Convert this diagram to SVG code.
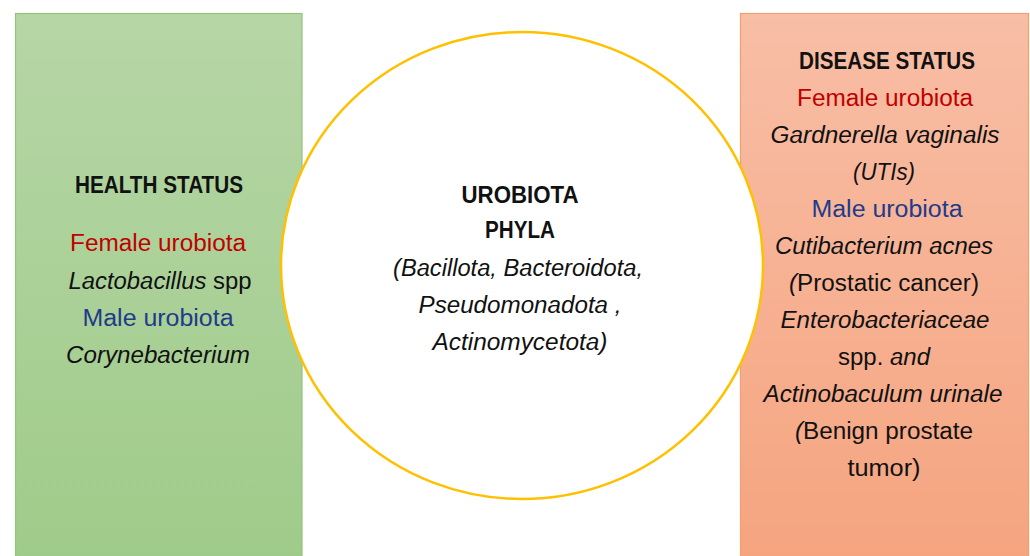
<svg xmlns="http://www.w3.org/2000/svg" width="1030" height="556" viewBox="0 0 1030 556">
<defs>
<linearGradient id="gGreen" x1="0" y1="0" x2="0" y2="1">
<stop offset="0" stop-color="#B6D6A6"/>
<stop offset="1" stop-color="#9FCB89"/>
</linearGradient>
<linearGradient id="gOrange" x1="0" y1="0" x2="0" y2="1">
<stop offset="0" stop-color="#F8BEA6"/>
<stop offset="1" stop-color="#F5A47F"/>
</linearGradient>
</defs>
<style>
text{font-family:"Liberation Sans",Arial,sans-serif;font-size:23px;fill:#111;text-anchor:middle}
.b{font-weight:bold;font-size:24px}
.i{font-style:italic}
.n{font-style:normal}
.red{fill:#C00000}
.blue{fill:#1F3B8A}
</style>
<rect width="1030" height="556" fill="#FFFFFF"/>
<g id="health">
<rect x="15.5" y="13.5" width="286.5" height="550" fill="url(#gGreen)" stroke="#93C47A" stroke-width="1.2"/>
<text class="b" x="159" y="193" textLength="168" lengthAdjust="spacingAndGlyphs">HEALTH STATUS</text>
<text class="red" x="158" y="251" textLength="176" lengthAdjust="spacingAndGlyphs">Female urobiota</text>
<text x="160" y="289" textLength="183" lengthAdjust="spacingAndGlyphs"><tspan class="i">Lactobacillus</tspan> spp</text>
<text class="blue" x="158" y="326" textLength="151" lengthAdjust="spacingAndGlyphs">Male urobiota</text>
<text class="i" x="158" y="363" textLength="184" lengthAdjust="spacingAndGlyphs">Corynebacterium</text>
</g>
<g id="disease">
<rect x="740.5" y="13.5" width="288" height="550" fill="url(#gOrange)" stroke="#F3A06E" stroke-width="1.2"/>
<text class="b" x="887" y="69" textLength="176" lengthAdjust="spacingAndGlyphs">DISEASE STATUS</text>
<text class="red" x="885" y="106" textLength="176" lengthAdjust="spacingAndGlyphs">Female urobiota</text>
<text class="i" x="885" y="143" textLength="229" lengthAdjust="spacingAndGlyphs">Gardnerella vaginalis</text>
<text class="i" x="884" y="180" textLength="62" lengthAdjust="spacingAndGlyphs">(UTIs)</text>
<text class="blue" x="887" y="217" textLength="151" lengthAdjust="spacingAndGlyphs">Male urobiota</text>
<text class="i" x="884" y="254" textLength="218" lengthAdjust="spacingAndGlyphs">Cutibacterium acnes</text>
<text x="884" y="291" textLength="190" lengthAdjust="spacingAndGlyphs"><tspan class="i">(</tspan>Prostatic cancer)</text>
<text class="i" x="885" y="328" textLength="209" lengthAdjust="spacingAndGlyphs">Enterobacteriaceae</text>
<text x="884" y="365" textLength="92" lengthAdjust="spacingAndGlyphs">spp. <tspan class="i">and</tspan></text>
<text class="i" x="883" y="402" textLength="239" lengthAdjust="spacingAndGlyphs">Actinobaculum urinale</text>
<text x="884" y="439" textLength="178" lengthAdjust="spacingAndGlyphs"><tspan class="i">(</tspan>Benign prostate</text>
<text x="884" y="476" textLength="73" lengthAdjust="spacingAndGlyphs">tumor)</text>
</g>
<g id="phyla">
<ellipse cx="522" cy="265.5" rx="241" ry="233.5" fill="#FFFFFF" stroke="#FFC000" stroke-width="2.5"/>
<text class="b" x="520" y="203" textLength="117" lengthAdjust="spacingAndGlyphs">UROBIOTA</text>
<text class="b" x="520" y="238" textLength="70" lengthAdjust="spacingAndGlyphs">PHYLA</text>
<text class="i" x="518" y="276" textLength="250" lengthAdjust="spacingAndGlyphs">(Bacillota, Bacteroidota,</text>
<text class="i" x="520" y="313" textLength="203" lengthAdjust="spacingAndGlyphs">Pseudomonadota ,</text>
<text class="i" x="520" y="350" textLength="175" lengthAdjust="spacingAndGlyphs">Actinomycetota)</text>
</g>
<g id="connectors"></g>
</svg>
